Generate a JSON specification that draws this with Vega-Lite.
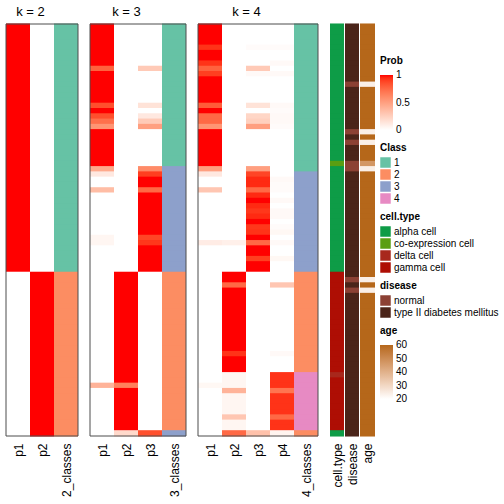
{
"$schema": "https://vega.github.io/schema/vega-lite/v6.json",
"width": 369, "height": 412,
"padding": {"left": 5, "top": 5, "right": 0, "bottom": 0},
"background": "white",
"config": {
  "font": "Liberation Sans",
  "view": {"stroke": null},
  "axis": {"grid": false},
  "legend": {"layout": {"right": {"anchor": "middle", "direction": "vertical", "margin": 8}}, "offset": 5, "titleFontSize": 10, "titleFontWeight": "bold", "titleColor": "black", "labelFontSize": 10, "labelColor": "black", "titlePadding": 4}
},
"datasets": {
"cols": [
{"key":"a1","x0":0,"x1":8,"panel":"k2"},{"key":"a2","x0":8,"x1":16,"panel":"k2"},{"key":"k2","x0":16,"x1":24,"panel":"k2"},
{"key":"b1","x0":28,"x1":36,"panel":"k3"},{"key":"b2","x0":36,"x1":44,"panel":"k3"},{"key":"b3","x0":44,"x1":52,"panel":"k3"},{"key":"k3","x0":52,"x1":60,"panel":"k3"},
{"key":"c1","x0":64,"x1":72,"panel":"k4"},{"key":"c2","x0":72,"x1":80,"panel":"k4"},{"key":"c3","x0":80,"x1":88,"panel":"k4"},{"key":"c4","x0":88,"x1":96,"panel":"k4"},{"key":"k4","x0":96,"x1":104,"panel":"k4"},
{"key":"ct","x0":108,"x1":113},{"key":"dz","x0":113,"x1":118},{"key":"age","x0":118,"x1":123}
],
"rows": [
{"r":0,"a1":1,"a2":0,"b1":1,"b2":0,"b3":0,"c1":1,"c2":0,"c3":0,"c4":0,"k2":"1","k3":"1","k4":"1","ct":"alpha cell","dz":"type II diabetes mellitus","age":60},
{"r":1,"a1":1,"a2":0,"b1":1,"b2":0,"b3":0,"c1":1,"c2":0,"c3":0,"c4":0,"k2":"1","k3":"1","k4":"1","ct":"alpha cell","dz":"type II diabetes mellitus","age":60},
{"r":2,"a1":1,"a2":0,"b1":1,"b2":0,"b3":0,"c1":1,"c2":0,"c3":0,"c4":0,"k2":"1","k3":"1","k4":"1","ct":"alpha cell","dz":"type II diabetes mellitus","age":60},
{"r":3,"a1":1,"a2":0,"b1":1,"b2":0,"b3":0,"c1":1,"c2":0,"c3":0,"c4":0,"k2":"1","k3":"1","k4":"1","ct":"alpha cell","dz":"type II diabetes mellitus","age":60},
{"r":4,"a1":1,"a2":0,"b1":1,"b2":0,"b3":0,"c1":0.93,"c2":0,"c3":0.02,"c4":0.02,"k2":"1","k3":"1","k4":"1","ct":"alpha cell","dz":"type II diabetes mellitus","age":60},
{"r":5,"a1":1,"a2":0,"b1":1,"b2":0,"b3":0,"c1":1,"c2":0,"c3":0,"c4":0,"k2":"1","k3":"1","k4":"1","ct":"alpha cell","dz":"type II diabetes mellitus","age":60},
{"r":6,"a1":1,"a2":0,"b1":1,"b2":0,"b3":0,"c1":1,"c2":0,"c3":0,"c4":0,"k2":"1","k3":"1","k4":"1","ct":"alpha cell","dz":"type II diabetes mellitus","age":60},
{"r":7,"a1":1,"a2":0,"b1":1,"b2":0,"b3":0,"c1":0.93,"c2":0,"c3":0,"c4":0.03,"k2":"1","k3":"1","k4":"1","ct":"alpha cell","dz":"type II diabetes mellitus","age":60},
{"r":8,"a1":1,"a2":0,"b1":0.78,"b2":0,"b3":0.28,"c1":0.78,"c2":0,"c3":0.28,"c4":0,"k2":"1","k3":"1","k4":"1","ct":"alpha cell","dz":"type II diabetes mellitus","age":60},
{"r":9,"a1":1,"a2":0,"b1":1,"b2":0,"b3":0,"c1":0.9,"c2":0,"c3":0.03,"c4":0.03,"k2":"1","k3":"1","k4":"1","ct":"alpha cell","dz":"type II diabetes mellitus","age":60},
{"r":10,"a1":1,"a2":0,"b1":1,"b2":0,"b3":0,"c1":1,"c2":0,"c3":0,"c4":0,"k2":"1","k3":"1","k4":"1","ct":"alpha cell","dz":"type II diabetes mellitus","age":60},
{"r":11,"a1":1,"a2":0,"b1":1,"b2":0,"b3":0,"c1":1,"c2":0,"c3":0,"c4":0,"k2":"1","k3":"1","k4":"1","ct":"alpha cell","dz":"normal","age":24},
{"r":12,"a1":1,"a2":0,"b1":1,"b2":0,"b3":0,"c1":1,"c2":0,"c3":0,"c4":0,"k2":"1","k3":"1","k4":"1","ct":"alpha cell","dz":"type II diabetes mellitus","age":60},
{"r":13,"a1":1,"a2":0,"b1":1,"b2":0,"b3":0,"c1":1,"c2":0,"c3":0,"c4":0,"k2":"1","k3":"1","k4":"1","ct":"alpha cell","dz":"type II diabetes mellitus","age":60},
{"r":14,"a1":1,"a2":0,"b1":1,"b2":0,"b3":0,"c1":1,"c2":0,"c3":0,"c4":0,"k2":"1","k3":"1","k4":"1","ct":"alpha cell","dz":"type II diabetes mellitus","age":60},
{"r":15,"a1":1,"a2":0,"b1":0.85,"b2":0,"b3":0.15,"c1":0.8,"c2":0,"c3":0.15,"c4":0.03,"k2":"1","k3":"1","k4":"1","ct":"alpha cell","dz":"type II diabetes mellitus","age":60},
{"r":16,"a1":1,"a2":0,"b1":1,"b2":0,"b3":0,"c1":1,"c2":0,"c3":0,"c4":0.02,"k2":"1","k3":"1","k4":"1","ct":"alpha cell","dz":"type II diabetes mellitus","age":60},
{"r":17,"a1":1,"a2":0,"b1":0.85,"b2":0,"b3":0.12,"c1":0.75,"c2":0,"c3":0.22,"c4":0.03,"k2":"1","k3":"1","k4":"1","ct":"alpha cell","dz":"type II diabetes mellitus","age":60},
{"r":18,"a1":1,"a2":0,"b1":0.72,"b2":0,"b3":0.28,"c1":0.75,"c2":0,"c3":0.25,"c4":0.03,"k2":"1","k3":"1","k4":"1","ct":"alpha cell","dz":"type II diabetes mellitus","age":60},
{"r":19,"a1":1,"a2":0,"b1":0.55,"b2":0,"b3":0.5,"c1":0.55,"c2":0,"c3":0.5,"c4":0.02,"k2":"1","k3":"1","k4":"1","ct":"alpha cell","dz":"type II diabetes mellitus","age":60},
{"r":20,"a1":1,"a2":0,"b1":1,"b2":0,"b3":0,"c1":1,"c2":0,"c3":0,"c4":0,"k2":"1","k3":"1","k4":"1","ct":"alpha cell","dz":"normal","age":24},
{"r":21,"a1":1,"a2":0,"b1":1,"b2":0,"b3":0,"c1":1,"c2":0,"c3":0,"c4":0,"k2":"1","k3":"1","k4":"1","ct":"alpha cell","dz":"type II diabetes mellitus","age":60},
{"r":22,"a1":1,"a2":0,"b1":1,"b2":0,"b3":0,"c1":1,"c2":0,"c3":0,"c4":0,"k2":"1","k3":"1","k4":"1","ct":"alpha cell","dz":"normal","age":24},
{"r":23,"a1":1,"a2":0,"b1":1,"b2":0,"b3":0,"c1":1,"c2":0,"c3":0,"c4":0,"k2":"1","k3":"1","k4":"1","ct":"alpha cell","dz":"type II diabetes mellitus","age":60},
{"r":24,"a1":1,"a2":0,"b1":1,"b2":0,"b3":0,"c1":1,"c2":0,"c3":0,"c4":0,"k2":"1","k3":"1","k4":"1","ct":"alpha cell","dz":"type II diabetes mellitus","age":60},
{"r":25,"a1":1,"a2":0,"b1":1,"b2":0,"b3":0,"c1":1,"c2":0,"c3":0,"c4":0,"k2":"1","k3":"1","k4":"1","ct":"alpha cell","dz":"type II diabetes mellitus","age":60},
{"r":26,"a1":1,"a2":0,"b1":1,"b2":0,"b3":0,"c1":1,"c2":0,"c3":0,"c4":0,"k2":"1","k3":"1","k4":"1","ct":"co-expression cell","dz":"normal","age":47},
{"r":27,"a1":1,"a2":0,"b1":0.45,"b2":0,"b3":0.6,"c1":0.5,"c2":0,"c3":0.5,"c4":0,"k2":"1","k3":"3","k4":"1","ct":"alpha cell","dz":"normal","age":24},
{"r":28,"a1":1,"a2":0,"b1":0.12,"b2":0,"b3":0.9,"c1":0.12,"c2":0,"c3":0.88,"c4":0,"k2":"1","k3":"3","k4":"3","ct":"alpha cell","dz":"type II diabetes mellitus","age":60},
{"r":29,"a1":1,"a2":0,"b1":0,"b2":0,"b3":1,"c1":0,"c2":0,"c3":0.95,"c4":0.03,"k2":"1","k3":"3","k4":"3","ct":"alpha cell","dz":"type II diabetes mellitus","age":60},
{"r":30,"a1":1,"a2":0,"b1":0,"b2":0,"b3":1,"c1":0,"c2":0,"c3":0.95,"c4":0.02,"k2":"1","k3":"3","k4":"3","ct":"alpha cell","dz":"type II diabetes mellitus","age":60},
{"r":31,"a1":1,"a2":0,"b1":0.35,"b2":0,"b3":0.75,"c1":0.3,"c2":0,"c3":0.75,"c4":0.02,"k2":"1","k3":"3","k4":"3","ct":"alpha cell","dz":"type II diabetes mellitus","age":60},
{"r":32,"a1":1,"a2":0,"b1":0,"b2":0,"b3":1,"c1":0,"c2":0,"c3":0.95,"c4":0,"k2":"1","k3":"3","k4":"3","ct":"alpha cell","dz":"type II diabetes mellitus","age":60},
{"r":33,"a1":1,"a2":0,"b1":0,"b2":0,"b3":1,"c1":0,"c2":0,"c3":1,"c4":0.03,"k2":"1","k3":"3","k4":"3","ct":"alpha cell","dz":"type II diabetes mellitus","age":60},
{"r":34,"a1":1,"a2":0,"b1":0,"b2":0,"b3":1,"c1":0,"c2":0,"c3":0.95,"c4":0,"k2":"1","k3":"3","k4":"3","ct":"alpha cell","dz":"type II diabetes mellitus","age":60},
{"r":35,"a1":1,"a2":0,"b1":0,"b2":0,"b3":1,"c1":0,"c2":0,"c3":0.92,"c4":0.03,"k2":"1","k3":"3","k4":"3","ct":"alpha cell","dz":"type II diabetes mellitus","age":60},
{"r":36,"a1":1,"a2":0,"b1":0,"b2":0,"b3":1,"c1":0,"c2":0,"c3":0.95,"c4":0.03,"k2":"1","k3":"3","k4":"3","ct":"alpha cell","dz":"type II diabetes mellitus","age":60},
{"r":37,"a1":1,"a2":0,"b1":0,"b2":0,"b3":1,"c1":0,"c2":0,"c3":1,"c4":0,"k2":"1","k3":"3","k4":"3","ct":"alpha cell","dz":"type II diabetes mellitus","age":60},
{"r":38,"a1":1,"a2":0,"b1":0,"b2":0,"b3":1,"c1":0,"c2":0,"c3":0.92,"c4":0.02,"k2":"1","k3":"3","k4":"3","ct":"alpha cell","dz":"type II diabetes mellitus","age":60},
{"r":39,"a1":1,"a2":0,"b1":0,"b2":0,"b3":1,"c1":0,"c2":0,"c3":0.93,"c4":0.04,"k2":"1","k3":"3","k4":"3","ct":"alpha cell","dz":"type II diabetes mellitus","age":60},
{"r":40,"a1":1,"a2":0,"b1":0.05,"b2":0,"b3":0.88,"c1":0,"c2":0,"c3":1,"c4":0,"k2":"1","k3":"3","k4":"3","ct":"alpha cell","dz":"type II diabetes mellitus","age":60},
{"r":41,"a1":1,"a2":0,"b1":0.05,"b2":0,"b3":0.92,"c1":0.1,"c2":0.08,"c3":0.75,"c4":0.03,"k2":"1","k3":"3","k4":"3","ct":"alpha cell","dz":"type II diabetes mellitus","age":60},
{"r":42,"a1":1,"a2":0,"b1":0,"b2":0,"b3":1,"c1":0,"c2":0,"c3":1,"c4":0,"k2":"1","k3":"3","k4":"3","ct":"alpha cell","dz":"type II diabetes mellitus","age":60},
{"r":43,"a1":1,"a2":0,"b1":0,"b2":0,"b3":1,"c1":0,"c2":0,"c3":1,"c4":0,"k2":"1","k3":"3","k4":"3","ct":"alpha cell","dz":"type II diabetes mellitus","age":60},
{"r":44,"a1":1,"a2":0,"b1":0,"b2":0,"b3":1,"c1":0,"c2":0,"c3":0.9,"c4":0.04,"k2":"1","k3":"3","k4":"3","ct":"alpha cell","dz":"type II diabetes mellitus","age":60},
{"r":45,"a1":1,"a2":0,"b1":0,"b2":0,"b3":1,"c1":0,"c2":0,"c3":1,"c4":0,"k2":"1","k3":"3","k4":"3","ct":"alpha cell","dz":"type II diabetes mellitus","age":60},
{"r":46,"a1":1,"a2":0,"b1":0,"b2":0,"b3":1,"c1":0,"c2":0,"c3":1,"c4":0,"k2":"1","k3":"3","k4":"3","ct":"alpha cell","dz":"type II diabetes mellitus","age":60},
{"r":47,"a1":0,"a2":1,"b1":0,"b2":1,"b3":0,"c1":0,"c2":1,"c3":0,"c4":0,"k2":"2","k3":"2","k4":"2","ct":"gamma cell","dz":"type II diabetes mellitus","age":60},
{"r":48,"a1":0,"a2":1,"b1":0,"b2":1,"b3":0,"c1":0,"c2":1,"c3":0,"c4":0,"k2":"2","k3":"2","k4":"2","ct":"gamma cell","dz":"normal","age":24},
{"r":49,"a1":0,"a2":1,"b1":0,"b2":1,"b3":0,"c1":0,"c2":0.75,"c3":0,"c4":0.3,"k2":"2","k3":"2","k4":"2","ct":"gamma cell","dz":"type II diabetes mellitus","age":60},
{"r":50,"a1":0,"a2":1,"b1":0,"b2":1,"b3":0,"c1":0,"c2":1,"c3":0,"c4":0,"k2":"2","k3":"2","k4":"2","ct":"gamma cell","dz":"normal","age":24},
{"r":51,"a1":0,"a2":1,"b1":0,"b2":1,"b3":0,"c1":0,"c2":1,"c3":0,"c4":0,"k2":"2","k3":"2","k4":"2","ct":"gamma cell","dz":"type II diabetes mellitus","age":60},
{"r":52,"a1":0,"a2":1,"b1":0,"b2":1,"b3":0,"c1":0,"c2":1,"c3":0,"c4":0,"k2":"2","k3":"2","k4":"2","ct":"gamma cell","dz":"type II diabetes mellitus","age":60},
{"r":53,"a1":0,"a2":1,"b1":0,"b2":1,"b3":0,"c1":0,"c2":1,"c3":0,"c4":0,"k2":"2","k3":"2","k4":"2","ct":"gamma cell","dz":"type II diabetes mellitus","age":60},
{"r":54,"a1":0,"a2":1,"b1":0,"b2":1,"b3":0,"c1":0,"c2":1,"c3":0,"c4":0,"k2":"2","k3":"2","k4":"2","ct":"gamma cell","dz":"type II diabetes mellitus","age":60},
{"r":55,"a1":0,"a2":1,"b1":0,"b2":1,"b3":0,"c1":0,"c2":1,"c3":0,"c4":0,"k2":"2","k3":"2","k4":"2","ct":"gamma cell","dz":"type II diabetes mellitus","age":60},
{"r":56,"a1":0,"a2":1,"b1":0,"b2":1,"b3":0,"c1":0,"c2":1,"c3":0,"c4":0,"k2":"2","k3":"2","k4":"2","ct":"gamma cell","dz":"type II diabetes mellitus","age":60},
{"r":57,"a1":0,"a2":1,"b1":0,"b2":1,"b3":0,"c1":0,"c2":1,"c3":0,"c4":0,"k2":"2","k3":"2","k4":"2","ct":"gamma cell","dz":"type II diabetes mellitus","age":60},
{"r":58,"a1":0,"a2":1,"b1":0,"b2":1,"b3":0,"c1":0,"c2":1,"c3":0,"c4":0,"k2":"2","k3":"2","k4":"2","ct":"gamma cell","dz":"type II diabetes mellitus","age":60},
{"r":59,"a1":0,"a2":1,"b1":0,"b2":1,"b3":0,"c1":0,"c2":1,"c3":0,"c4":0,"k2":"2","k3":"2","k4":"2","ct":"gamma cell","dz":"type II diabetes mellitus","age":60},
{"r":60,"a1":0,"a2":1,"b1":0,"b2":1,"b3":0,"c1":0,"c2":1,"c3":0,"c4":0,"k2":"2","k3":"2","k4":"2","ct":"gamma cell","dz":"type II diabetes mellitus","age":60},
{"r":61,"a1":0,"a2":1,"b1":0,"b2":1,"b3":0,"c1":0,"c2":1,"c3":0,"c4":0,"k2":"2","k3":"2","k4":"2","ct":"gamma cell","dz":"type II diabetes mellitus","age":60},
{"r":62,"a1":0,"a2":1,"b1":0,"b2":1,"b3":0,"c1":0,"c2":0.93,"c3":0,"c4":0.03,"k2":"2","k3":"2","k4":"2","ct":"gamma cell","dz":"type II diabetes mellitus","age":60},
{"r":63,"a1":0,"a2":1,"b1":0,"b2":1,"b3":0,"c1":0,"c2":1,"c3":0,"c4":0,"k2":"2","k3":"2","k4":"2","ct":"gamma cell","dz":"type II diabetes mellitus","age":60},
{"r":64,"a1":0,"a2":1,"b1":0,"b2":1,"b3":0,"c1":0,"c2":1,"c3":0,"c4":0,"k2":"2","k3":"2","k4":"2","ct":"gamma cell","dz":"type II diabetes mellitus","age":60},
{"r":65,"a1":0,"a2":1,"b1":0,"b2":1,"b3":0,"c1":0,"c2":1,"c3":0,"c4":0,"k2":"2","k3":"2","k4":"2","ct":"gamma cell","dz":"type II diabetes mellitus","age":60},
{"r":66,"a1":0,"a2":1,"b1":0,"b2":1,"b3":0,"c1":0,"c2":0.05,"c3":0,"c4":0.93,"k2":"2","k3":"2","k4":"4","ct":"delta cell","dz":"type II diabetes mellitus","age":60},
{"r":67,"a1":0,"a2":1,"b1":0,"b2":1,"b3":0,"c1":0,"c2":0.05,"c3":0,"c4":0.93,"k2":"2","k3":"2","k4":"4","ct":"gamma cell","dz":"type II diabetes mellitus","age":60},
{"r":68,"a1":0,"a2":1,"b1":0.4,"b2":0.65,"b3":0,"c1":0.04,"c2":0.05,"c3":0,"c4":0.93,"k2":"2","k3":"2","k4":"4","ct":"gamma cell","dz":"type II diabetes mellitus","age":60},
{"r":69,"a1":0,"a2":1,"b1":0,"b2":1,"b3":0,"c1":0,"c2":0.4,"c3":0,"c4":0.7,"k2":"2","k3":"2","k4":"4","ct":"gamma cell","dz":"type II diabetes mellitus","age":60},
{"r":70,"a1":0,"a2":1,"b1":0,"b2":1,"b3":0,"c1":0,"c2":0.05,"c3":0,"c4":0.93,"k2":"2","k3":"2","k4":"4","ct":"gamma cell","dz":"type II diabetes mellitus","age":60},
{"r":71,"a1":0,"a2":1,"b1":0,"b2":1,"b3":0,"c1":0,"c2":0.05,"c3":0,"c4":0.93,"k2":"2","k3":"2","k4":"4","ct":"gamma cell","dz":"type II diabetes mellitus","age":60},
{"r":72,"a1":0,"a2":1,"b1":0,"b2":1,"b3":0,"c1":0,"c2":0.05,"c3":0,"c4":0.93,"k2":"2","k3":"2","k4":"4","ct":"gamma cell","dz":"type II diabetes mellitus","age":60},
{"r":73,"a1":0,"a2":1,"b1":0,"b2":1,"b3":0,"c1":0,"c2":0.05,"c3":0,"c4":0.93,"k2":"2","k3":"2","k4":"4","ct":"gamma cell","dz":"type II diabetes mellitus","age":60},
{"r":74,"a1":0,"a2":1,"b1":0,"b2":1,"b3":0,"c1":0,"c2":0.3,"c3":0,"c4":0.75,"k2":"2","k3":"2","k4":"4","ct":"gamma cell","dz":"type II diabetes mellitus","age":60},
{"r":75,"a1":0,"a2":1,"b1":0,"b2":1,"b3":0,"c1":0,"c2":0.05,"c3":0,"c4":0.93,"k2":"2","k3":"2","k4":"4","ct":"gamma cell","dz":"type II diabetes mellitus","age":60},
{"r":76,"a1":0,"a2":1,"b1":0,"b2":1,"b3":0,"c1":0,"c2":0.05,"c3":0,"c4":0.93,"k2":"2","k3":"2","k4":"4","ct":"gamma cell","dz":"type II diabetes mellitus","age":60},
{"r":77,"a1":0,"a2":1,"b1":0,"b2":0.2,"b3":0.85,"c1":0,"c2":0.75,"c3":0.33,"c4":0.06,"k2":"2","k3":"3","k4":"2","ct":"alpha cell","dz":"type II diabetes mellitus","age":60}
]
},
"layer": [
{
  "data": {"name": "rows"},
  "transform": [
    {"fold": ["a1","a2","b1","b2","b3","c1","c2","c3","c4"], "as": ["key","p"]},
    {"lookup": "key", "from": {"data": {"name": "cols"}, "key": "key", "fields": ["x0","x1"]}}
  ],
  "mark": {"type": "rect", "height": {"band": 1.2}},
  "encoding": {
    "x": {"field": "x0", "type": "quantitative", "scale": {"domain": [0,123], "nice": false, "zero": false},
      "axis": {"orient": "bottom", "title": null, "values": [4,12,20,32,40,48,56,68,76,84,92,100,110.5,115.5,120.5],
        "labelExpr": "['p1','p2','2_classes','p1','p2','p3','3_classes','p1','p2','p3','p4','4_classes','cell.type','disease','age'][indexof([4,12,20,32,40,48,56,68,76,84,92,100,110.5,115.5,120.5], datum.value)]",
        "labelAngle": 270, "labelAlign": "right", "labelBaseline": "middle", "labelFontSize": 12, "labelColor": "black",
        "ticks": false, "tickSize": 0, "domain": false, "labelPadding": 7, "labelOverlap": false, "labelFlush": false, "grid": false}},
    "x2": {"field": "x1"},
    "y": {"field": "r", "type": "ordinal", "axis": null, "scale": {"paddingInner": 0, "paddingOuter": 0}},
    "color": {"field": "p", "type": "quantitative", "title": "Prob",
      "scale": {"domain": [0,1], "range": ["#ffffff","#ff0000"], "interpolate": "lab"},
      "legend": {"values": [0,0.5,1], "format": "~g", "labelOverlap": false, "gradientLength": 55, "gradientThickness": 13, "gradientStrokeWidth": 0, "labelOffset": 3, "titlePadding": 9,
        "encode": {"labels": {"update": {"baseline": {"value": "middle"}}}}}}
  }
},
{
  "data": {"name": "rows"},
  "transform": [
    {"fold": ["k2","k3","k4"], "as": ["key","cls"]},
    {"lookup": "key", "from": {"data": {"name": "cols"}, "key": "key", "fields": ["x0","x1"]}}
  ],
  "mark": {"type": "rect", "height": {"band": 1.2}},
  "encoding": {
    "x": {"field": "x0", "type": "quantitative", "scale": {"domain": [0,123], "nice": false, "zero": false},
      "axis": {"orient": "top", "title": null, "values": [8,40,80],
        "labelExpr": "datum.value == 8 ? 'k = 2' : datum.value == 40 ? 'k = 3' : 'k = 4'",
        "labelAngle": 0, "labelFontSize": 13, "labelColor": "black", "ticks": false, "tickSize": 0, "domain": false,
        "labelPadding": 6, "labelOverlap": false, "labelFlush": false, "grid": false}},
    "x2": {"field": "x1"},
    "y": {"field": "r", "type": "ordinal", "axis": null},
    "color": {"field": "cls", "type": "nominal", "title": "Class",
      "scale": {"domain": ["1","2","3","4"], "range": ["#66C2A5","#FC8D62","#8DA0CB","#E78AC3"]},
      "legend": {"symbolType": "square", "symbolSize": 110, "symbolStrokeWidth": 0, "rowPadding": 1, "labelOffset": 3}}
  }
},
{
  "data": {"name": "rows"},
  "transform": [
    {"fold": ["ct"], "as": ["key","v"]},
    {"lookup": "key", "from": {"data": {"name": "cols"}, "key": "key", "fields": ["x0","x1"]}}
  ],
  "mark": {"type": "rect", "x2Offset": -1, "height": {"band": 1.2}},
  "encoding": {
    "x": {"field": "x0", "type": "quantitative", "scale": {"domain": [0,123], "nice": false, "zero": false}, "axis": null},
    "x2": {"field": "x1"},
    "y": {"field": "r", "type": "ordinal", "axis": null},
    "color": {"field": "v", "type": "nominal", "title": "cell.type",
      "scale": {"domain": ["alpha cell","co-expression cell","delta cell","gamma cell"], "range": ["#0E9C47","#5A9E12","#A8281C","#AE0E04"]},
      "legend": {"symbolType": "square", "symbolSize": 110, "symbolStrokeWidth": 0, "rowPadding": 1, "labelOffset": 3}}
  }
},
{
  "data": {"name": "rows"},
  "transform": [
    {"fold": ["dz"], "as": ["key","v"]},
    {"lookup": "key", "from": {"data": {"name": "cols"}, "key": "key", "fields": ["x0","x1"]}}
  ],
  "mark": {"type": "rect", "x2Offset": -1, "height": {"band": 1.2}},
  "encoding": {
    "x": {"field": "x0", "type": "quantitative", "scale": {"domain": [0,123], "nice": false, "zero": false}, "axis": null},
    "x2": {"field": "x1"},
    "y": {"field": "r", "type": "ordinal", "axis": null},
    "color": {"field": "v", "type": "nominal", "title": "disease",
      "scale": {"domain": ["normal","type II diabetes mellitus"], "range": ["#8C4134","#4B2419"]},
      "legend": {"symbolType": "square", "symbolSize": 110, "symbolStrokeWidth": 0, "rowPadding": 1, "labelOffset": 3}}
  }
},
{
  "data": {"name": "rows"},
  "transform": [
    {"fold": ["age"], "as": ["key","v"]},
    {"lookup": "key", "from": {"data": {"name": "cols"}, "key": "key", "fields": ["x0","x1"]}}
  ],
  "mark": {"type": "rect", "height": {"band": 1.2}},
  "encoding": {
    "x": {"field": "x0", "type": "quantitative", "scale": {"domain": [0,123], "nice": false, "zero": false}, "axis": null},
    "x2": {"field": "x1"},
    "y": {"field": "r", "type": "ordinal", "axis": null},
    "color": {"field": "v", "type": "quantitative", "title": "age",
      "scale": {"domain": [20,60], "range": ["#ffffff","#B5671A"], "interpolate": "lab"},
      "legend": {"values": [20,30,40,50,60], "labelOverlap": false, "gradientLength": 54, "gradientThickness": 13, "gradientStrokeWidth": 0, "labelOffset": 3, "titlePadding": 9,
        "encode": {"labels": {"update": {"baseline": {"value": "middle"}}}}}}
  }
},
{
  "data": {"name": "cols"},
  "transform": [
    {"filter": "isValid(datum.panel)"},
    {"aggregate": [{"op": "min", "field": "x0", "as": "s"}, {"op": "max", "field": "x1", "as": "e"}], "groupby": ["panel"]}
  ],
  "mark": {"type": "rect", "filled": false, "stroke": "#4d4d4d", "strokeWidth": 1},
  "encoding": {
    "x": {"field": "s", "type": "quantitative", "scale": {"domain": [0,123], "nice": false, "zero": false}, "axis": null},
    "x2": {"field": "e"}
  }
}
],
"resolve": {"scale": {"color": "independent"}, "axis": {"x": "independent"}}
}
